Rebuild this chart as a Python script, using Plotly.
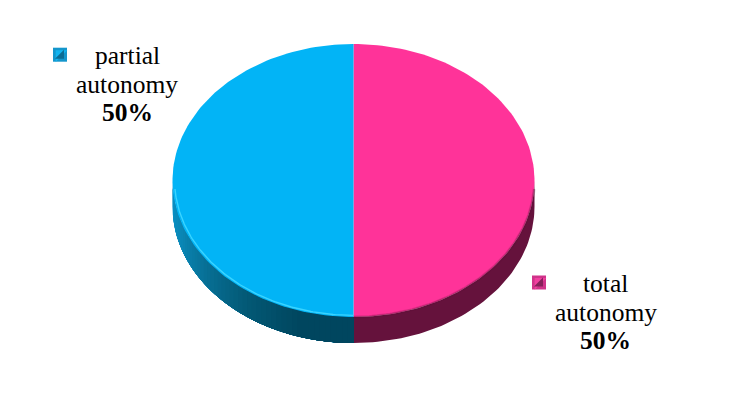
import numpy as np
import plotly.graph_objects as go

# chart values
label_lines = [["total", "autonomy"], ["partial", "autonomy"]]
shares = [50, 50]
percent_text = ["50%", "50%"]

# colours
top_colors = ["#FF3399", "#02B4F6"]
wall_pink = "#65123C"
wall_blue_stops = ["#0A93C8", "#0A86B4", "#076E93", "#035874", "#00465F", "#00465F"]

# pie geometry, in page pixels
cx, cy = 353.5, 180.5
rx, ry = 181, 136.5
depth = 26


def ring(a0, a1, dy=0.0, n=120, scale=1.0):
    # clockwise from 12 o'clock, angles in share units (0-100)
    t = np.radians(np.linspace(a0, a1, n) * 3.6)
    return cx + scale * rx * np.sin(t), cy + dy - scale * ry * np.cos(t)


def wall_trace(a0, a1, color):
    x0, y0 = ring(a0, a1, 0, 60)
    x1, y1 = ring(a0, a1, depth, 60)
    return go.Scatter(
        x=np.r_[x0, x1[::-1], x0[0]], y=np.r_[y0, y1[::-1], y0[0]],
        mode="lines", fill="toself", fillcolor=color,
        line=dict(color=color, width=0), hoverinfo="skip",
    )


def hex_mix(c0, c1, f):
    a = [int(c0[i:i + 2], 16) for i in (1, 3, 5)]
    b = [int(c1[i:i + 2], 16) for i in (1, 3, 5)]
    return "rgb({},{},{})".format(*[round(p + (q - p) * f) for p, q in zip(a, b)])


fig = go.Figure()

# side wall: only the front half shows
fig.add_trace(wall_trace(25, shares[0], wall_pink))

# blue wall, painted from the left edge inwards so no seams show
n_bands = 50
for i in range(n_bands):
    a = 75 - 25 * i / n_bands
    pos = i / n_bands * (len(wall_blue_stops) - 1)
    j = min(int(pos), len(wall_blue_stops) - 2)
    fig.add_trace(wall_trace(shares[0], a, hex_mix(wall_blue_stops[j], wall_blue_stops[j + 1], pos - j)))

# top face, one wedge per share
a0 = 0.0
for share, color in zip(shares, top_colors):
    x, y = ring(a0, a0 + share)
    fig.add_trace(go.Scatter(
        x=np.r_[cx, x, cx], y=np.r_[cy, y, cy],
        mode="lines", fill="toself", fillcolor=color,
        line=dict(color=color, width=0), hoverinfo="skip",
    ))
    a0 += share

# rim highlight on the blue side and soft shade on the pink side
x, y = ring(50, 74, scale=0.988)
fig.add_trace(go.Scatter(x=x, y=y, mode="lines", line=dict(color="#3AD4FF", width=1.4), hoverinfo="skip"))
for w, alpha in [(3, 0.18), (1.5, 0.35)]:
    x, y = ring(26, 50)
    fig.add_trace(go.Scatter(x=x, y=y, mode="lines", line=dict(color=f"rgba(94,16,56,{alpha})", width=w), hoverinfo="skip"))

# legend keys, bevelled squares
keys = [
    dict(x=539, y=282.5, base="#D0338A", nw="#F23FA0", se="#85215A"),
    dict(x=60, y=54.7, base="#1496CC", nw="#12B4F0", se="#0B6C94"),
]
for key in keys:
    fig.add_trace(go.Scatter(x=[key["x"]], y=[key["y"]], mode="markers", hoverinfo="skip",
                             marker=dict(symbol="square", size=14, color=key["base"])))
    fig.add_trace(go.Scatter(x=[key["x"] - 0.5], y=[key["y"] - 0.5], mode="markers", hoverinfo="skip",
                             marker=dict(symbol="triangle-nw", size=13, color=key["nw"])))
    fig.add_trace(go.Scatter(x=[key["x"] + 1], y=[key["y"] + 1], mode="markers", hoverinfo="skip",
                             marker=dict(symbol="triangle-se", size=10, color=key["se"])))

# data labels, one annotation per line for the tight leading
label_x = [605.5, 127]
label_y = [283.5, 55.5]
line_step = 28.7
for lines, pct, lx, ly in zip(label_lines, percent_text, label_x, label_y):
    rows = lines + [f"<b>{pct}</b>"]
    for i, row in enumerate(rows):
        fig.add_annotation(
            x=lx, y=ly + i * line_step, xanchor="center", yanchor="middle", showarrow=False,
            text=row, font=dict(family="Liberation Serif", size=25.5, color="#000000"),
        )

fig.update_layout(
    width=748, height=409, showlegend=False,
    margin=dict(l=0, r=0, t=0, b=0),
    paper_bgcolor="#FFFFFF", plot_bgcolor="#FFFFFF",
    xaxis=dict(range=[0, 748], visible=False, fixedrange=True),
    yaxis=dict(range=[409, 0], visible=False, fixedrange=True),
)

fig.write_html("out.html", config={"displayModeBar": False}, post_script="document.body.style.margin='0';")
